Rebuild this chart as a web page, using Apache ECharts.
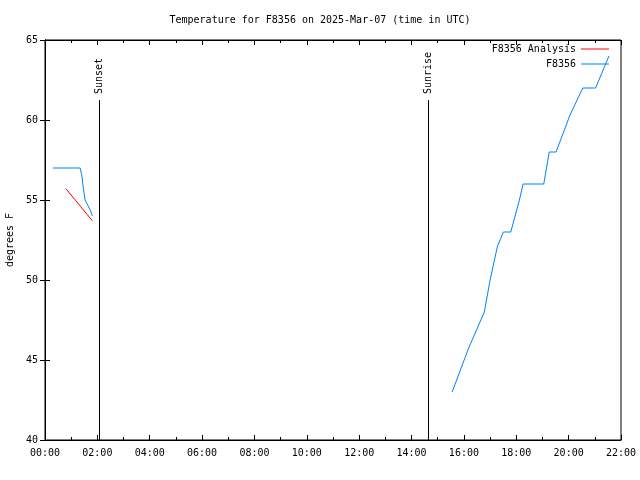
<!DOCTYPE html>
<html><head><meta charset="utf-8">
<script src="https://cdn.jsdelivr.net/npm/echarts@6/dist/echarts.min.js"></script>
<style>html,body{margin:0;padding:0;background:#fff}#c{width:640px;height:480px}</style>
</head><body><div id="c"></div>
<script>
const titleText = 'Temperature for F8356 on 2025-Mar-07 (time in UTC)';
const yLabel = 'degrees F';
const analysisName = 'F8356 Analysis';
const obsName = 'F8356';
const analysisTimes = [0.80, 1.81];
const analysisValues = [55.7, 53.7];
const obsTimes = [0.30, 1.34, 1.40, 1.46, 1.53, 1.72, 1.81, null, 15.55, 16.17, 16.78, 17.00, 17.28, 17.51, 17.79, 18.12, 18.26, 19.05, 19.26, 19.52, 20.05, 20.54, 21.03, 21.54];
const obsValues = [57, 57, 56.6, 55.8, 55, 54.4, 54.0, null, 43, 45.7, 48, 50, 52.1, 53, 53, 55, 56, 56, 58, 58, 60.3, 62, 62, 64];
const sunNames = ['Sunset', 'Sunrise'];
const sunTimes = [2.07, 14.63];
const sunTop = [61.25, 61.25];

const FONT = 'DejaVu Sans Mono';
const pad = n => (n < 10 ? '0' : '') + n;
const fmt = v => pad(Math.round(v)) + ':00';

const obsData = obsTimes.map((t, i) => t === null ? [null, null] : [t, obsValues[i]]);
const anaData = analysisTimes.map((t, i) => [t, analysisValues[i]]);
const sunData = sunTimes.map((t, i) => [t, sunTop[i], sunNames[i]]);

const chart = echarts.init(document.getElementById('c'), null, {renderer: 'canvas'});
chart.setOption({
  animation: false,
  backgroundColor: '#fff',
  textStyle: {fontFamily: FONT},
  title: {text: titleText, left: 'center', top: 10,
    textStyle: {fontFamily: FONT, fontSize: 10, fontWeight: 'normal', color: '#000'}},
  legend: [
    {data: [analysisName], right: 26, top: 39, orient: 'vertical', align: 'right',
     itemWidth: 28, itemHeight: 8, icon: 'path://M0,4 L28,4 L28,5 L0,5 Z',
     textStyle: {fontFamily: FONT, fontSize: 10, color: '#000'}},
    {data: [obsName], right: 26, top: 54, orient: 'vertical', align: 'right',
     itemWidth: 28, itemHeight: 8, icon: 'path://M0,4 L28,4 L28,5 L0,5 Z',
     textStyle: {fontFamily: FONT, fontSize: 10, color: '#000'}}
  ],
  grid: {left: 45, right: 19, top: 40, bottom: 40, show: true, borderColor: '#000', borderWidth: 1,
         containLabel: false, outerBoundsMode: 'none'},
  xAxis: [{
    type: 'value', min: 0, max: 22, interval: 2,
    axisLine: {show: true, lineStyle: {color: '#000'}},
    axisTick: {show: true, inside: true, length: 5, lineStyle: {color: '#000'}},
    minorTick: {show: true, splitNumber: 2, length: 3, lineStyle: {color: '#000'}},
    splitLine: {show: false},
    axisLabel: {formatter: fmt, color: '#000', fontFamily: FONT, fontSize: 10, margin: 8}
  }, {
    type: 'value', min: 0, max: 22, interval: 2, position: 'top',
    axisLine: {show: true, lineStyle: {color: '#000'}},
    axisTick: {show: true, inside: true, length: 5, lineStyle: {color: '#000'}},
    minorTick: {show: true, splitNumber: 2, length: 3, lineStyle: {color: '#000'}},
    splitLine: {show: false}, axisLabel: {show: false}
  }],
  yAxis: [{
    type: 'value', min: 40, max: 65, interval: 5,
    name: yLabel, nameLocation: 'middle', nameGap: 30, nameRotate: 90,
    nameTextStyle: {fontFamily: FONT, fontSize: 10, color: '#000'},
    axisLine: {show: true, lineStyle: {color: '#000'}},
    axisTick: {show: true, inside: true, length: 5, lineStyle: {color: '#000'}},
    splitLine: {show: false},
    axisLabel: {color: '#000', fontFamily: FONT, fontSize: 10, margin: 7}
  }, {
    type: 'value', min: 40, max: 65, interval: 5, position: 'right',
    axisLine: {show: true, lineStyle: {color: '#000'}},
    axisTick: {show: true, inside: true, length: 5, lineStyle: {color: '#000'}},
    splitLine: {show: false}, axisLabel: {show: false}
  }],
  series: [
    {name: analysisName, type: 'line', data: anaData, showSymbol: false, symbol: 'none',
     color: '#ff0000', lineStyle: {width: 1, color: '#ff0000'}},
    {name: obsName, type: 'line', data: obsData, showSymbol: false, symbol: 'none', connectNulls: false,
     color: '#0080ff', lineStyle: {width: 1, color: '#0080ff'}},
    {type: 'custom', data: sunData, silent: true, clip: false,
     renderItem: function (params, api) {
       const bottom = api.coord([api.value(0), 40]);
       const top = api.coord([api.value(0), api.value(1)]);
       const x = Math.round(bottom[0]) + 0.5;
       return {type: 'group', children: [
         {type: 'line', shape: {x1: x, y1: bottom[1], x2: x, y2: top[1]},
          style: {stroke: '#000', lineWidth: 1}},
         {type: 'text', x: x, y: top[1] - 6, rotation: Math.PI / 2,
          style: {text: api.value(2), fill: '#000', font: '10px ' + FONT,
                  textAlign: 'left', textVerticalAlign: 'middle'}}
       ]};
     }}
  ]
});
</script></body></html>
